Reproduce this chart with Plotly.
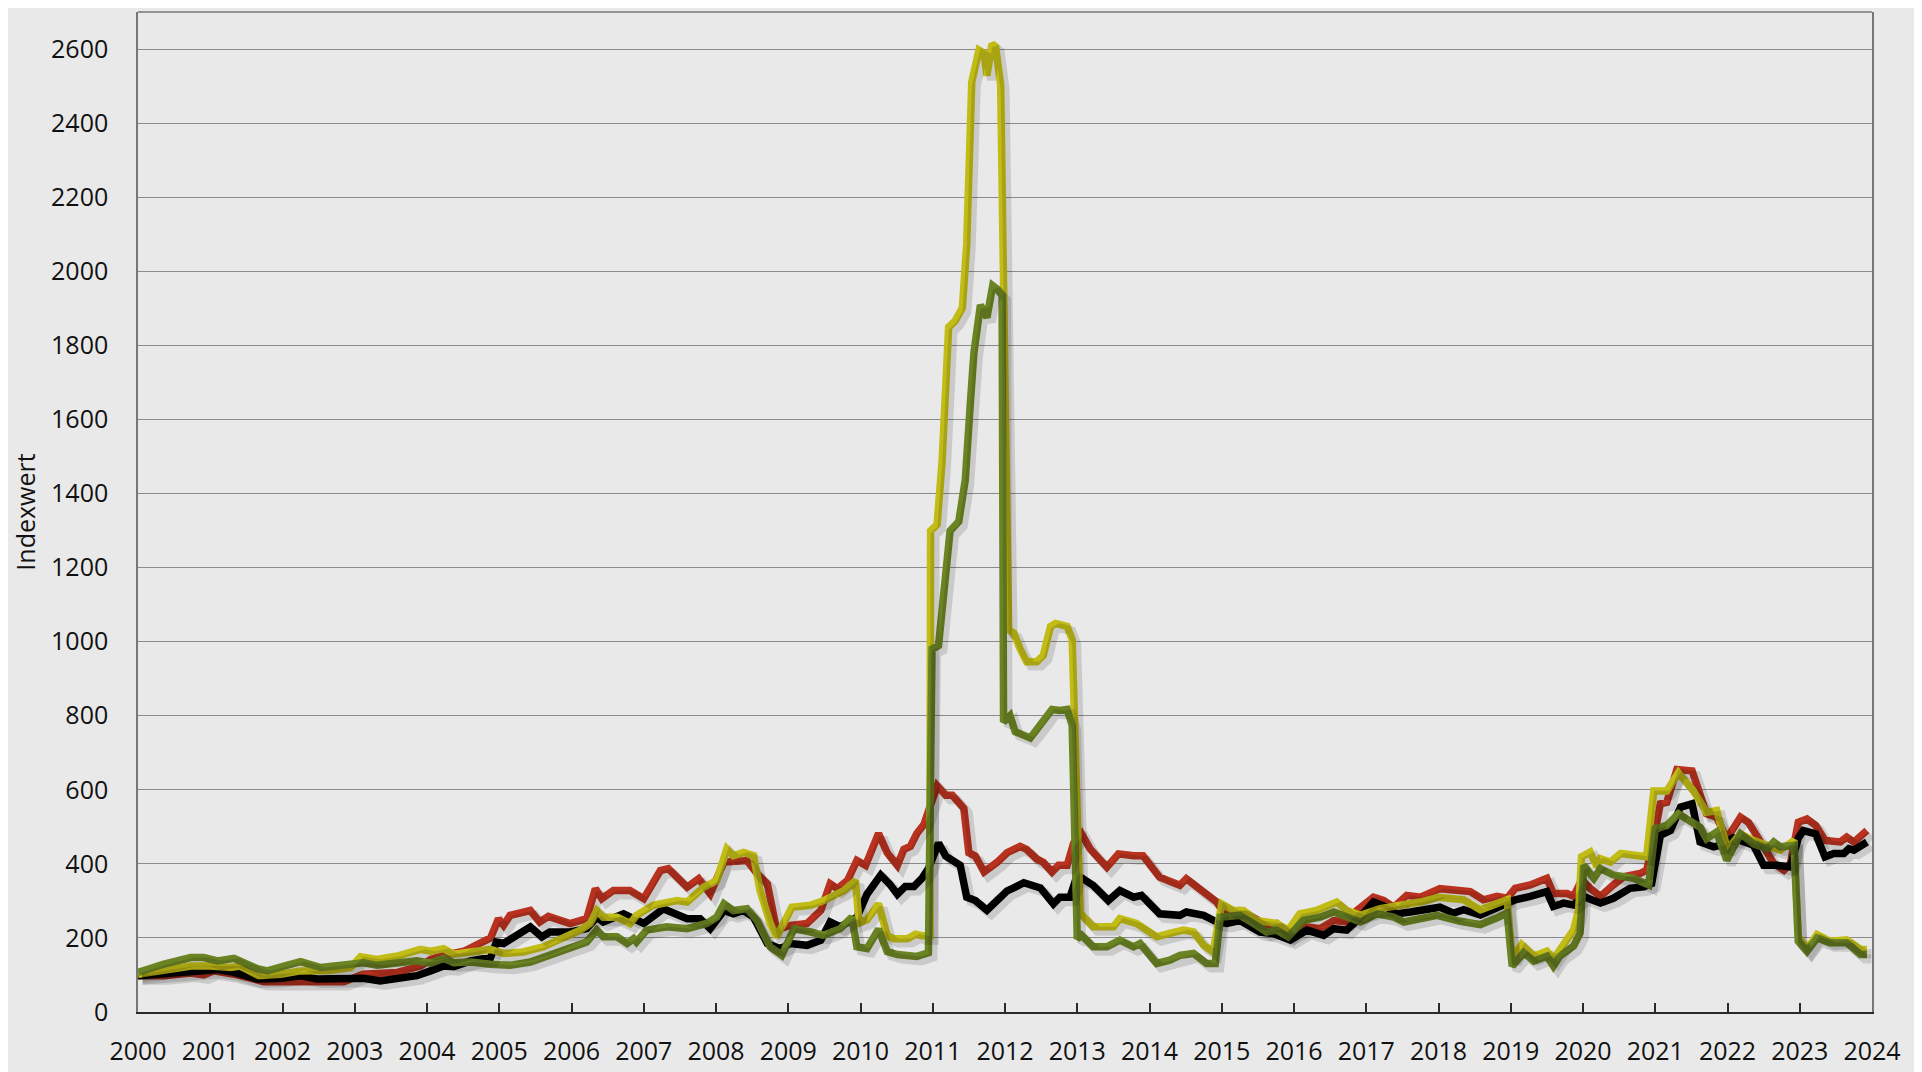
import plotly.graph_objects as go

# ---- data (index values, decimal years) ----
t_red = [2000.0, 2000.36, 2000.73, 2000.91, 2001.05, 2001.33, 2001.74, 2002.06, 2002.48, 2002.85,
         2003.12, 2003.59, 2003.91, 2004.05, 2004.23, 2004.51, 2004.74, 2004.88, 2004.99, 2005.06,
         2005.15, 2005.43, 2005.56, 2005.68, 2005.98, 2006.21, 2006.33, 2006.42, 2006.58, 2006.81,
         2007.0, 2007.23, 2007.34, 2007.46, 2007.6, 2007.76, 2007.92, 2008.11, 2008.29, 2008.43,
         2008.57, 2008.71, 2008.84, 2009.03, 2009.26, 2009.45, 2009.58, 2009.68, 2009.82, 2009.95,
         2010.07, 2010.25, 2010.37, 2010.51, 2010.6, 2010.69, 2010.78, 2010.88, 2010.94, 2011.06,
         2011.18, 2011.27, 2011.43, 2011.5, 2011.59, 2011.71, 2011.89, 2012.03, 2012.21, 2012.3,
         2012.44, 2012.53, 2012.65, 2012.74, 2012.86, 2012.95, 2013.06, 2013.18, 2013.41, 2013.57,
         2013.78, 2013.91, 2014.14, 2014.28, 2014.42, 2014.51, 2014.7, 2014.93, 2015.02, 2015.25,
         2015.35, 2015.62, 2015.76, 2015.95, 2016.18, 2016.36, 2016.55, 2016.73, 2016.87, 2017.1,
         2017.24, 2017.38, 2017.56, 2017.75, 2018.02, 2018.3, 2018.44, 2018.62, 2018.81, 2018.95,
         2019.06, 2019.27, 2019.5, 2019.59, 2019.78, 2019.87, 2019.98, 2020.1, 2020.24, 2020.42,
         2020.56, 2020.79, 2020.88, 2020.95, 2021.07, 2021.16, 2021.3, 2021.51, 2021.62, 2021.71,
         2021.85, 2021.99, 2022.18, 2022.29, 2022.5, 2022.64, 2022.78, 2022.87, 2022.98, 2023.1,
         2023.22, 2023.35, 2023.56, 2023.65, 2023.75, 2023.93]
v_red = [98, 98, 105, 100, 111, 102, 82, 84, 82, 82,
         102, 107, 124, 142, 153, 164, 187, 200, 252, 234,
         261, 274, 243, 258, 239, 252, 333, 306, 328, 328,
         306, 382, 387, 364, 337, 360, 319, 405, 409, 409,
         373, 346, 221, 234, 239, 274, 346, 333, 355, 409,
         396, 482, 430, 396, 439, 447, 482, 507, 542, 611,
         585, 585, 550, 430, 421, 378, 404, 430, 447, 439,
         413, 404, 378, 396, 396, 456, 481, 440, 391, 427,
         422, 422, 364, 355, 342, 360, 333, 297, 270, 274,
         265, 234, 239, 207, 230, 225, 247, 243, 274, 310,
         301, 283, 315, 310, 333, 325, 325, 303, 312, 307,
         334, 343, 361, 320, 320, 312, 356, 334, 312, 343,
         365, 374, 383, 437, 562, 566, 655, 651, 588, 535,
         526, 468, 526, 512, 446, 401, 383, 401, 512, 521,
         504, 463, 459, 472, 459, 490]

t_black = [2000.0, 2000.36, 2000.82, 2001.1, 2001.33, 2001.65, 2001.97, 2002.25, 2002.48, 2002.85,
           2003.12, 2003.35, 2003.59, 2003.86, 2004.05, 2004.23, 2004.37, 2004.6, 2004.88, 2004.96,
           2005.06, 2005.43, 2005.59, 2005.7, 2005.98, 2006.21, 2006.35, 2006.44, 2006.72, 2006.9,
           2007.0, 2007.27, 2007.6, 2007.78, 2007.92, 2008.11, 2008.24, 2008.38, 2008.52, 2008.71,
           2008.89, 2009.03, 2009.26, 2009.45, 2009.58, 2009.72, 2009.95, 2010.09, 2010.28, 2010.41,
           2010.51, 2010.62, 2010.74, 2010.85, 2010.94, 2011.08, 2011.18, 2011.38, 2011.47, 2011.59,
           2011.75, 2011.89, 2012.03, 2012.12, 2012.26, 2012.49, 2012.67, 2012.76, 2012.9, 2013.0,
           2013.22, 2013.43, 2013.59, 2013.78, 2013.89, 2014.14, 2014.42, 2014.51, 2014.75, 2014.93,
           2015.07, 2015.25, 2015.53, 2015.71, 2015.95, 2016.18, 2016.41, 2016.55, 2016.73, 2016.87,
           2017.1, 2017.28, 2017.42, 2017.61, 2017.84, 2018.02, 2018.21, 2018.35, 2018.58, 2018.85,
           2018.95, 2019.06, 2019.27, 2019.5, 2019.59, 2019.73, 2019.87, 2020.01, 2020.12, 2020.24,
           2020.42, 2020.65, 2020.84, 2020.95, 2021.07, 2021.21, 2021.35, 2021.51, 2021.62, 2021.81,
           2021.9, 2022.08, 2022.36, 2022.5, 2022.68, 2022.87, 2022.98, 2023.05, 2023.22, 2023.35,
           2023.47, 2023.61, 2023.68, 2023.75, 2023.93]
v_black = [98, 102, 111, 115, 107, 89, 91, 98, 89, 89,
           91, 84, 89, 98, 111, 124, 122, 138, 147, 189,
           185, 230, 203, 216, 216, 225, 256, 243, 265, 247,
           239, 279, 252, 252, 225, 274, 265, 274, 256, 185,
           171, 185, 180, 194, 243, 230, 256, 318, 370, 344,
           318, 339, 339, 361, 387, 456, 421, 396, 310, 301,
           275, 301, 327, 335, 349, 335, 292, 310, 310, 370,
           342, 301, 328, 310, 315, 265, 261, 270, 261, 243,
           239, 247, 216, 212, 194, 221, 207, 225, 221, 247,
           297, 283, 265, 270, 279, 283, 267, 276, 262, 285,
           289, 303, 312, 325, 285, 294, 289, 312, 303, 294,
           307, 334, 338, 347, 477, 490, 553, 562, 459, 446,
           450, 470, 450, 396, 396, 392, 470, 490, 481, 419,
           428, 428, 441, 437, 459]

t_yellow = [2000.0, 2000.36, 2000.73, 2001.0, 2001.28, 2001.42, 2001.67, 2001.97, 2002.25, 2002.66,
            2002.94, 2003.08, 2003.31, 2003.59, 2003.91, 2004.05, 2004.23, 2004.37, 2004.6, 2004.88,
            2005.06, 2005.33, 2005.61, 2005.89, 2006.12, 2006.26, 2006.35, 2006.44, 2006.63, 2006.81,
            2006.9, 2007.13, 2007.46, 2007.6, 2007.83, 2008.01, 2008.15, 2008.24, 2008.38, 2008.52,
            2008.61, 2008.75, 2008.84, 2009.05, 2009.31, 2009.49, 2009.77, 2009.93, 2009.98, 2010.09,
            2010.25, 2010.37, 2010.46, 2010.65, 2010.76, 2010.85, 2010.96, 2010.97, 2011.06, 2011.13,
            2011.22, 2011.31, 2011.41, 2011.47, 2011.54, 2011.64, 2011.71, 2011.75, 2011.82, 2011.87,
            2011.94, 2012.05, 2012.12, 2012.21, 2012.3, 2012.44, 2012.53, 2012.63, 2012.7, 2012.86,
            2012.93, 2013.04, 2013.22, 2013.5, 2013.59, 2013.82, 2014.1, 2014.28, 2014.47, 2014.61,
            2014.75, 2014.88, 2015.0, 2015.16, 2015.3, 2015.48, 2015.76, 2015.92, 2016.08, 2016.31,
            2016.59, 2016.73, 2016.92, 2017.19, 2017.56, 2017.75, 2018.0, 2018.35, 2018.58, 2018.85,
            2018.95, 2019.02, 2019.15, 2019.32, 2019.5, 2019.59, 2019.68, 2019.87, 2019.94, 2019.98,
            2020.1, 2020.19, 2020.24, 2020.38, 2020.52, 2020.7, 2020.88, 2020.98, 2021.16, 2021.32,
            2021.53, 2021.71, 2021.85, 2022.0, 2022.18, 2022.36, 2022.55, 2022.73, 2022.92, 2022.98,
            2023.1, 2023.24, 2023.42, 2023.65, 2023.84, 2023.93]
v_yellow = [102, 111, 124, 124, 120, 124, 98, 102, 111, 112,
            120, 149, 142, 151, 169, 164, 171, 156, 160, 169,
            158, 162, 176, 198, 221, 239, 274, 256, 256, 239,
            261, 288, 301, 297, 337, 355, 440, 422, 431, 422,
            328, 239, 203, 283, 288, 301, 328, 355, 241, 249,
            292, 206, 198, 198, 210, 206, 206, 1299, 1316, 1488,
            1849, 1866, 1901, 2073, 2511, 2597, 2589, 2528, 2614, 2606,
            2503, 1032, 1023, 980, 946, 946, 963, 1041, 1049, 1041,
            1006, 267, 230, 230, 252, 239, 203, 212, 221, 216,
            180, 162, 292, 274, 274, 247, 239, 221, 265, 274,
            297, 274, 261, 279, 288, 297, 310, 303, 276, 294,
            303, 142, 182, 151, 164, 142, 169, 222, 276, 419,
            432, 392, 414, 405, 428, 423, 419, 597, 597, 646,
            597, 539, 544, 440, 481, 463, 450, 437, 463, 204,
            169, 209, 191, 195, 169, 169]

t_green = [2000.0, 2000.18, 2000.36, 2000.73, 2000.91, 2001.1, 2001.33, 2001.65, 2001.79, 2002.02,
           2002.25, 2002.53, 2002.85, 2003.12, 2003.31, 2003.59, 2003.86, 2004.05, 2004.23, 2004.37,
           2004.6, 2004.88, 2005.15, 2005.43, 2005.7, 2005.98, 2006.21, 2006.35, 2006.44, 2006.63,
           2006.77, 2006.86, 2006.9, 2007.04, 2007.32, 2007.6, 2007.87, 2008.01, 2008.11, 2008.24,
           2008.43, 2008.57, 2008.75, 2008.91, 2009.08, 2009.31, 2009.49, 2009.72, 2009.88, 2009.95,
           2010.09, 2010.25, 2010.37, 2010.51, 2010.78, 2010.94, 2010.99, 2011.08, 2011.18, 2011.24,
           2011.36, 2011.45, 2011.52, 2011.57, 2011.66, 2011.75, 2011.83, 2011.89, 2011.96, 2011.98,
           2012.07, 2012.14, 2012.35, 2012.49, 2012.65, 2012.76, 2012.86, 2012.93, 2013.0, 2013.06,
           2013.22, 2013.41, 2013.59, 2013.78, 2013.87, 2014.1, 2014.28, 2014.42, 2014.61, 2014.79,
           2014.91, 2014.98, 2015.25, 2015.48, 2015.62, 2015.76, 2015.92, 2016.13, 2016.36, 2016.55,
           2016.73, 2016.92, 2017.15, 2017.38, 2017.52, 2017.75, 2017.98, 2018.3, 2018.58, 2018.81,
           2018.95, 2019.02, 2019.18, 2019.32, 2019.5, 2019.59, 2019.68, 2019.87, 2019.96, 2020.01,
           2020.15, 2020.24, 2020.42, 2020.7, 2020.91, 2021.0, 2021.16, 2021.32, 2021.48, 2021.62,
           2021.71, 2021.85, 2021.99, 2022.18, 2022.36, 2022.55, 2022.64, 2022.73, 2022.92, 2022.98,
           2023.1, 2023.24, 2023.42, 2023.65, 2023.84, 2023.93]
v_green = [107, 120, 129, 147, 147, 138, 145, 117, 111, 124,
           136, 120, 129, 133, 126, 132, 138, 132, 145, 133,
           135, 129, 126, 135, 153, 176, 189, 221, 203, 203,
           185, 198, 189, 221, 230, 225, 239, 256, 292, 274,
           279, 247, 176, 153, 225, 216, 207, 225, 256, 176,
           171, 224, 163, 155, 150, 160, 980, 989, 1195, 1299,
           1324, 1436, 1643, 1780, 1909, 1875, 1961, 1952, 1935, 783,
           800, 757, 740, 774, 817, 814, 817, 774, 198, 207,
           176, 176, 194, 176, 185, 131, 140, 153, 158, 131,
           131, 256, 261, 234, 216, 221, 203, 247, 256, 270,
           256, 243, 265, 256, 243, 252, 261, 245, 236, 254,
           267, 124, 160, 137, 151, 124, 151, 178, 213, 396,
           361, 387, 370, 361, 343, 495, 504, 535, 517, 499,
           468, 486, 410, 481, 454, 441, 459, 446, 450, 191,
           164, 200, 187, 187, 155, 155]

year_ticks = list(range(2000, 2025))
y_ticks = list(range(0, 2601, 200))

series = [
    ("Rot", t_red, v_red, "#b8321f"),
    ("Schwarz", t_black, v_black, "#000000"),
    ("Gelb", t_yellow, v_yellow, "#c2bc16"),
    ("Grün", t_green, v_green, "#6b8423"),
]

X_RANGE = [2000, 2024]
Y_RANGE = [0, 2700]
# shadow offset (a few pixels down-right) expressed through axis ranges
dx = 0.062
dy = 12

fig = go.Figure()
for name, t, v, col in series:
    fig.add_trace(go.Scatter(x=t, y=v, mode="lines", xaxis="x2", yaxis="y2",
                             line=dict(color="rgba(0,0,0,0.13)", width=9),
                             hoverinfo="skip", showlegend=False))
for name, t, v, col in series:
    fig.add_trace(go.Scatter(x=t, y=v, mode="lines", name=name,
                             line=dict(color=col, width=7.5),
                             showlegend=False))

font_family = "Open Sans, Noto Sans, sans-serif"
fig.update_layout(
    width=1922, height=1072,
    paper_bgcolor="#e9e9e9", plot_bgcolor="#e9e9e9",
    margin=dict(l=130, r=58, t=4, b=68),
    font=dict(family=font_family, size=25, color="#111111"),
    xaxis=dict(range=X_RANGE, tickvals=year_ticks, ticktext=[str(y) for y in year_ticks],
               showgrid=False, zeroline=False, showline=True, linecolor="#2a2a2a", linewidth=2,
               ticks="inside", ticklen=9, tickwidth=1.5, tickcolor="#2a2a2a",
               ticklabelstandoff=16, tickfont=dict(size=25)),
    yaxis=dict(range=Y_RANGE, tickvals=y_ticks, showgrid=True, gridcolor="#8a8a8a", gridwidth=1.3,
               zeroline=False, showline=True, mirror=True, linecolor="#777777", linewidth=1.5,
               ticks="", ticklabelstandoff=23, tickfont=dict(size=25),
               title=dict(text="Indexwert", font=dict(size=25), standoff=14)),
    xaxis2=dict(range=[X_RANGE[0] - dx, X_RANGE[1] - dx], overlaying="x", visible=False),
    yaxis2=dict(range=[Y_RANGE[0] + dy, Y_RANGE[1] + dy], overlaying="y", visible=False),
    shapes=[dict(type="line", xref="paper", yref="paper", x0=0, x1=1, y0=1, y1=1,
                 line=dict(color="#777777", width=1.5))],
)

fig.write_html("out.html")
